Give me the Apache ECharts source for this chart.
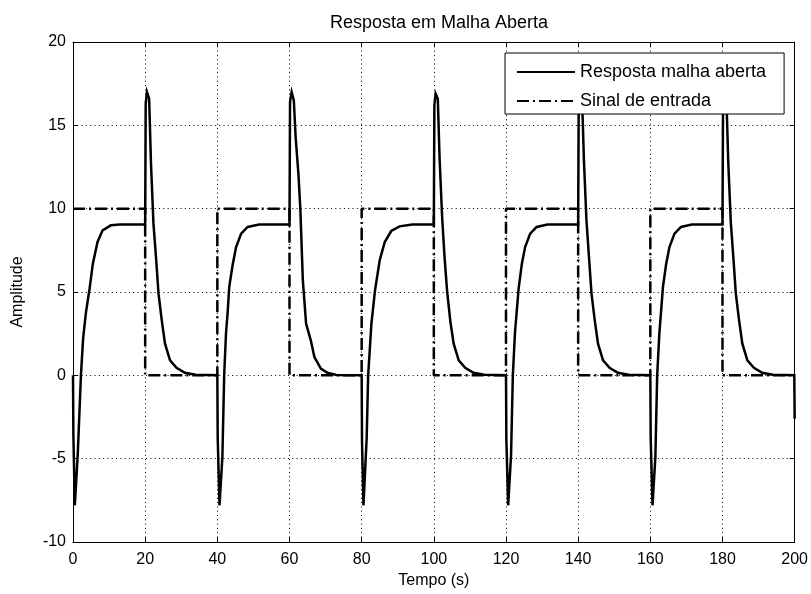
<!DOCTYPE html>
<html>
<head>
<meta charset="utf-8">
<script src="https://cdn.jsdelivr.net/npm/echarts@6/dist/echarts.min.js"></script>
<style>
html,body{margin:0;padding:0;background:#fff;}
#chart{width:811px;height:594px;}
</style>
</head>
<body>
<div id="chart"></div>
<script>
// ---- Data ----
const titleText = 'Resposta em Malha Aberta';
const xAxisName = 'Tempo (s)';
const yAxisName = 'Amplitude';
const seriesNames = ['Resposta malha aberta', 'Sinal de entrada'];

const xTicks = [0, 20, 40, 60, 80, 100, 120, 140, 160, 180, 200];
const yTicks = [-10, -5, 0, 5, 10, 15, 20];

// Open-loop response (time in s, amplitude)
const respT = [
  0, 0.1, 0.5, 0.9, 1.3, 2.2, 2.8, 3.6, 4.6, 5.5, 6.8, 8.2, 10.5, 13, 20,
  20.15, 20.5, 21.1, 21.6, 22.3, 23.0, 23.7, 24.6, 25.5, 26.9, 28.7, 31, 34, 40,
  40.1, 40.6, 41.0, 41.4, 41.9, 42.4, 42.9, 43.3, 44.3, 45.2, 46.6, 48.4, 51.6, 60,
  60.15, 60.6, 61.2, 61.7, 62.5, 63.0, 63.7, 64.6, 65.9, 66.9, 68.7, 70.5, 73, 80,
  80.1, 80.5, 81.0, 81.4, 81.8, 82.7, 83.7, 85.0, 86.4, 88.2, 90.5, 94, 100,
  100.15, 100.5, 101.1, 101.6, 102.3, 103.0, 103.7, 104.6, 105.5, 106.9, 108.7, 111, 114, 120,
  120.1, 120.6, 121.0, 121.4, 121.9, 122.5, 123.0, 123.5, 124.4, 125.3, 126.7, 128.5, 131.5, 140,
  140.15, 140.5, 141.1, 141.6, 142.3, 143.0, 143.7, 144.6, 145.5, 146.9, 148.7, 151, 154, 160,
  160.1, 160.6, 161.0, 161.4, 161.9, 162.5, 163.0, 163.5, 164.4, 165.3, 166.7, 168.5, 171.5, 180,
  180.15, 180.5, 181.1, 181.6, 182.3, 183.0, 183.7, 184.6, 185.5, 186.9, 188.7, 191, 194, 199.9,
  200
];
const respY = [
  0, -3.5, -7.8, -7.8, -4.8, 0, 2.2, 3.8, 5.2, 6.7, 8.0, 8.7, 9.0, 9.05, 9.05,
  16.3, 17.0, 16.6, 12.8, 9.1, 7.1, 4.9, 3.3, 1.9, 0.9, 0.45, 0.15, 0.03, 0,
  -3.7, -7.8, -7.8, -4.9, 0, 2.5, 3.9, 5.3, 6.7, 7.7, 8.5, 8.9, 9.05, 9.05,
  16.4, 17.0, 16.5, 14.3, 12.0, 10.0, 5.7, 3.1, 2.1, 1.1, 0.4, 0.15, 0.02, 0,
  -4.0, -7.8, -7.7, -3.7, 0, 3.1, 5.1, 6.9, 8.0, 8.66, 8.94, 9.05, 9.05,
  16.2, 16.9, 16.6, 13.0, 9.5, 7.0, 5.0, 3.2, 1.9, 0.9, 0.45, 0.15, 0.03, 0,
  -3.8, -7.8, -7.8, -4.8, 0, 2.6, 3.9, 5.2, 6.7, 7.7, 8.5, 8.9, 9.05, 9.05,
  16.3, 16.9, 16.5, 12.9, 9.3, 7.1, 4.9, 3.3, 1.9, 0.9, 0.45, 0.15, 0.03, 0,
  -3.7, -7.8, -7.8, -4.9, 0, 2.5, 3.9, 5.3, 6.7, 7.7, 8.5, 8.9, 9.05, 9.05,
  16.3, 16.9, 16.5, 12.8, 9.2, 7.1, 4.9, 3.3, 1.9, 0.9, 0.45, 0.15, 0.03, 0,
  -2.6
];

// Input signal (square wave)
const inT = [0, 20, 20, 40, 40, 60, 60, 80, 80, 100, 100, 120, 120, 140, 140, 160, 160, 180, 180, 200];
const inY = [10, 10, 0, 0, 10, 10, 0, 0, 10, 10, 0, 0, 10, 10, 0, 0, 10, 10, 0, 0];

// ---- Build chart ----
const FONT = '"Liberation Sans", Arial, Helvetica, sans-serif';
const respData = respT.map((t, i) => [t, respY[i]]);
const inData = inT.map((t, i) => [t, inY[i]]);

const axisLineStyle = { show: true, onZero: false, lineStyle: { color: '#000', width: 1 } };
const tickStyle = { show: true, inside: true, length: 5, lineStyle: { color: '#000', width: 1 } };
const gridLine = { show: true, lineStyle: { color: '#000', width: 1, type: [1, 3.3] } };
const xMin = xTicks[0], xMax = xTicks[xTicks.length - 1], xInt = xTicks[1] - xTicks[0];
const yMin = yTicks[0], yMax = yTicks[yTicks.length - 1], yInt = yTicks[1] - yTicks[0];

const chart = echarts.init(document.getElementById('chart'), null, { renderer: 'canvas' });
chart.setOption({
  animation: false,
  backgroundColor: '#fff',
  textStyle: { fontFamily: FONT },
  title: {
    text: titleText, left: 434, top: 9, textAlign: 'center',
    textStyle: { fontFamily: FONT, fontSize: 18, fontWeight: 'normal', color: '#000' }
  },
  grid: { left: 73, right: 16, top: 42, bottom: 52, containLabel: false },
  legend: {
    orient: 'vertical', left: 505, top: 53,
    backgroundColor: '#fff', borderColor: '#000', borderWidth: 1, borderRadius: 0,
    padding: [10, 18, 4, 11], itemWidth: 58, itemHeight: 18, itemGap: 11,
    itemStyle: { opacity: 0 },
    textStyle: { fontFamily: FONT, fontSize: 18, color: '#000' },
    data: seriesNames
  },
  xAxis: [{
    type: 'value', min: xMin, max: xMax, interval: xInt, position: 'bottom',
    name: xAxisName, nameLocation: 'middle', nameGap: 29,
    nameTextStyle: { fontFamily: FONT, fontSize: 16, color: '#000' },
    axisLine: axisLineStyle, axisTick: tickStyle, splitLine: gridLine,
    axisLabel: { color: '#000', fontSize: 16, fontFamily: FONT, margin: 10 }
  }, {
    type: 'value', min: xMin, max: xMax, interval: xInt, position: 'top',
    axisLine: axisLineStyle, axisTick: tickStyle, splitLine: { show: false },
    axisLabel: { show: false }
  }],
  yAxis: [{
    type: 'value', min: yMin, max: yMax, interval: yInt, position: 'left',
    name: yAxisName, nameLocation: 'middle', nameGap: 47, nameRotate: 90,
    nameTextStyle: { fontFamily: FONT, fontSize: 16, color: '#000' },
    axisLine: axisLineStyle, axisTick: tickStyle, splitLine: gridLine,
    axisLabel: { color: '#000', fontSize: 16, fontFamily: FONT, margin: 7 }
  }, {
    type: 'value', min: yMin, max: yMax, interval: yInt, position: 'right',
    axisLine: axisLineStyle, axisTick: tickStyle, splitLine: { show: false },
    axisLabel: { show: false }
  }],
  series: [{
    name: seriesNames[0], type: 'line', data: respData, showSymbol: false, symbol: 'none',
    xAxisIndex: 0, yAxisIndex: 0,
    lineStyle: { color: '#000', width: 2.5, type: 'solid', join: 'miter' },
    itemStyle: { color: '#000' }, z: 3
  }, {
    name: seriesNames[1], type: 'line', data: inData, showSymbol: false, symbol: 'none',
    xAxisIndex: 0, yAxisIndex: 0,
    lineStyle: { color: '#000', width: 2.5, type: [12, 4, 2, 4] },
    itemStyle: { color: '#000' }, z: 4
  }]
});
</script>
</body>
</html>
